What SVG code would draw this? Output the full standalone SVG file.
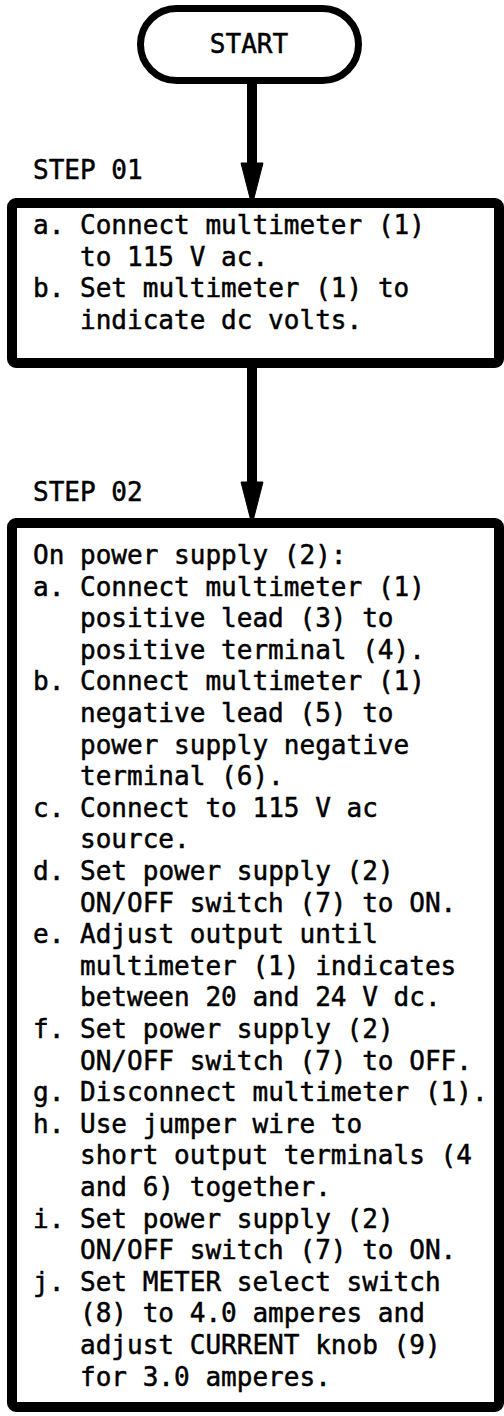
<svg xmlns="http://www.w3.org/2000/svg" width="504" height="1416" viewBox="0 0 504 1416">
<style>
.t{font-family:"DejaVu Sans Mono","Liberation Mono",monospace;font-size:27px;fill:#000;stroke:#000;stroke-width:0.5}
.box{fill:#fff;stroke:#000;stroke-width:10}
.ln{stroke:#000;stroke-width:10;fill:none}
.hd{fill:#000;stroke:#000;stroke-width:1}
</style>
<rect width="504" height="1416" fill="#fff"/>
<g id="connectors">
<line class="ln" x1="252" y1="80" x2="252" y2="166"/>
<polygon class="hd" points="241,163 263,163 253.5,200 250.5,200"/>
<line class="ln" x1="252" y1="362" x2="252" y2="485"/>
<polygon class="hd" points="241,482 263,482 253.5,519 250.5,519"/>
</g>
<g id="start">
<rect x="140.5" y="8.5" width="218" height="72" rx="36" fill="#fff" stroke="#000" stroke-width="7"/>
<g transform="scale(0.965,1)"><text class="t" x="258" y="53" text-anchor="middle">START</text></g>
</g>
<g id="step01-label" transform="scale(0.965,1)"><text class="t" x="34.2" y="179">STEP 01</text></g>
<g id="step01">
<rect class="box" x="12" y="203" width="487" height="160" rx="4"/>
<g transform="scale(0.965,1)">
<text class="t" x="34.2" y="234">a. Connect multimeter (1)</text>
<text class="t" x="82.9" y="265.6">to 115 V ac.</text>
<text class="t" x="34.2" y="297.2">b. Set multimeter (1) to</text>
<text class="t" x="82.9" y="328.8">indicate dc volts.</text>
</g>
</g>
<g id="step02-label" transform="scale(0.965,1)"><text class="t" x="34.2" y="501">STEP 02</text></g>
<g id="step02">
<rect class="box" x="12" y="523" width="487" height="884" rx="4"/>
<g transform="scale(0.965,1)">
<text class="t" x="34.2" y="564">On power supply (2):</text>
<text class="t" x="34.2" y="595.6">a. Connect multimeter (1)</text>
<text class="t" x="82.9" y="627.2">positive lead (3) to</text>
<text class="t" x="82.9" y="658.8">positive terminal (4).</text>
<text class="t" x="34.2" y="690.4">b. Connect multimeter (1)</text>
<text class="t" x="82.9" y="722">negative lead (5) to</text>
<text class="t" x="82.9" y="753.6">power supply negative</text>
<text class="t" x="82.9" y="785.2">terminal (6).</text>
<text class="t" x="34.2" y="816.8">c. Connect to 115 V ac</text>
<text class="t" x="82.9" y="848.4">source.</text>
<text class="t" x="34.2" y="880">d. Set power supply (2)</text>
<text class="t" x="82.9" y="911.6">ON/OFF switch (7) to ON.</text>
<text class="t" x="34.2" y="943.2">e. Adjust output until</text>
<text class="t" x="82.9" y="974.8">multimeter (1) indicates</text>
<text class="t" x="82.9" y="1006.4">between 20 and 24 V dc.</text>
<text class="t" x="34.2" y="1038">f. Set power supply (2)</text>
<text class="t" x="82.9" y="1069.6">ON/OFF switch (7) to OFF.</text>
<text class="t" x="34.2" y="1101.2">g. Disconnect multimeter (1).</text>
<text class="t" x="34.2" y="1132.8">h. Use jumper wire to</text>
<text class="t" x="82.9" y="1164.4">short output terminals (4</text>
<text class="t" x="82.9" y="1196">and 6) together.</text>
<text class="t" x="34.2" y="1227.6">i. Set power supply (2)</text>
<text class="t" x="82.9" y="1259.2">ON/OFF switch (7) to ON.</text>
<text class="t" x="34.2" y="1290.8">j. Set METER select switch</text>
<text class="t" x="82.9" y="1322.4">(8) to 4.0 amperes and</text>
<text class="t" x="82.9" y="1354">adjust CURRENT knob (9)</text>
<text class="t" x="82.9" y="1385.6">for 3.0 amperes.</text>
</g>
</g>
</svg>
